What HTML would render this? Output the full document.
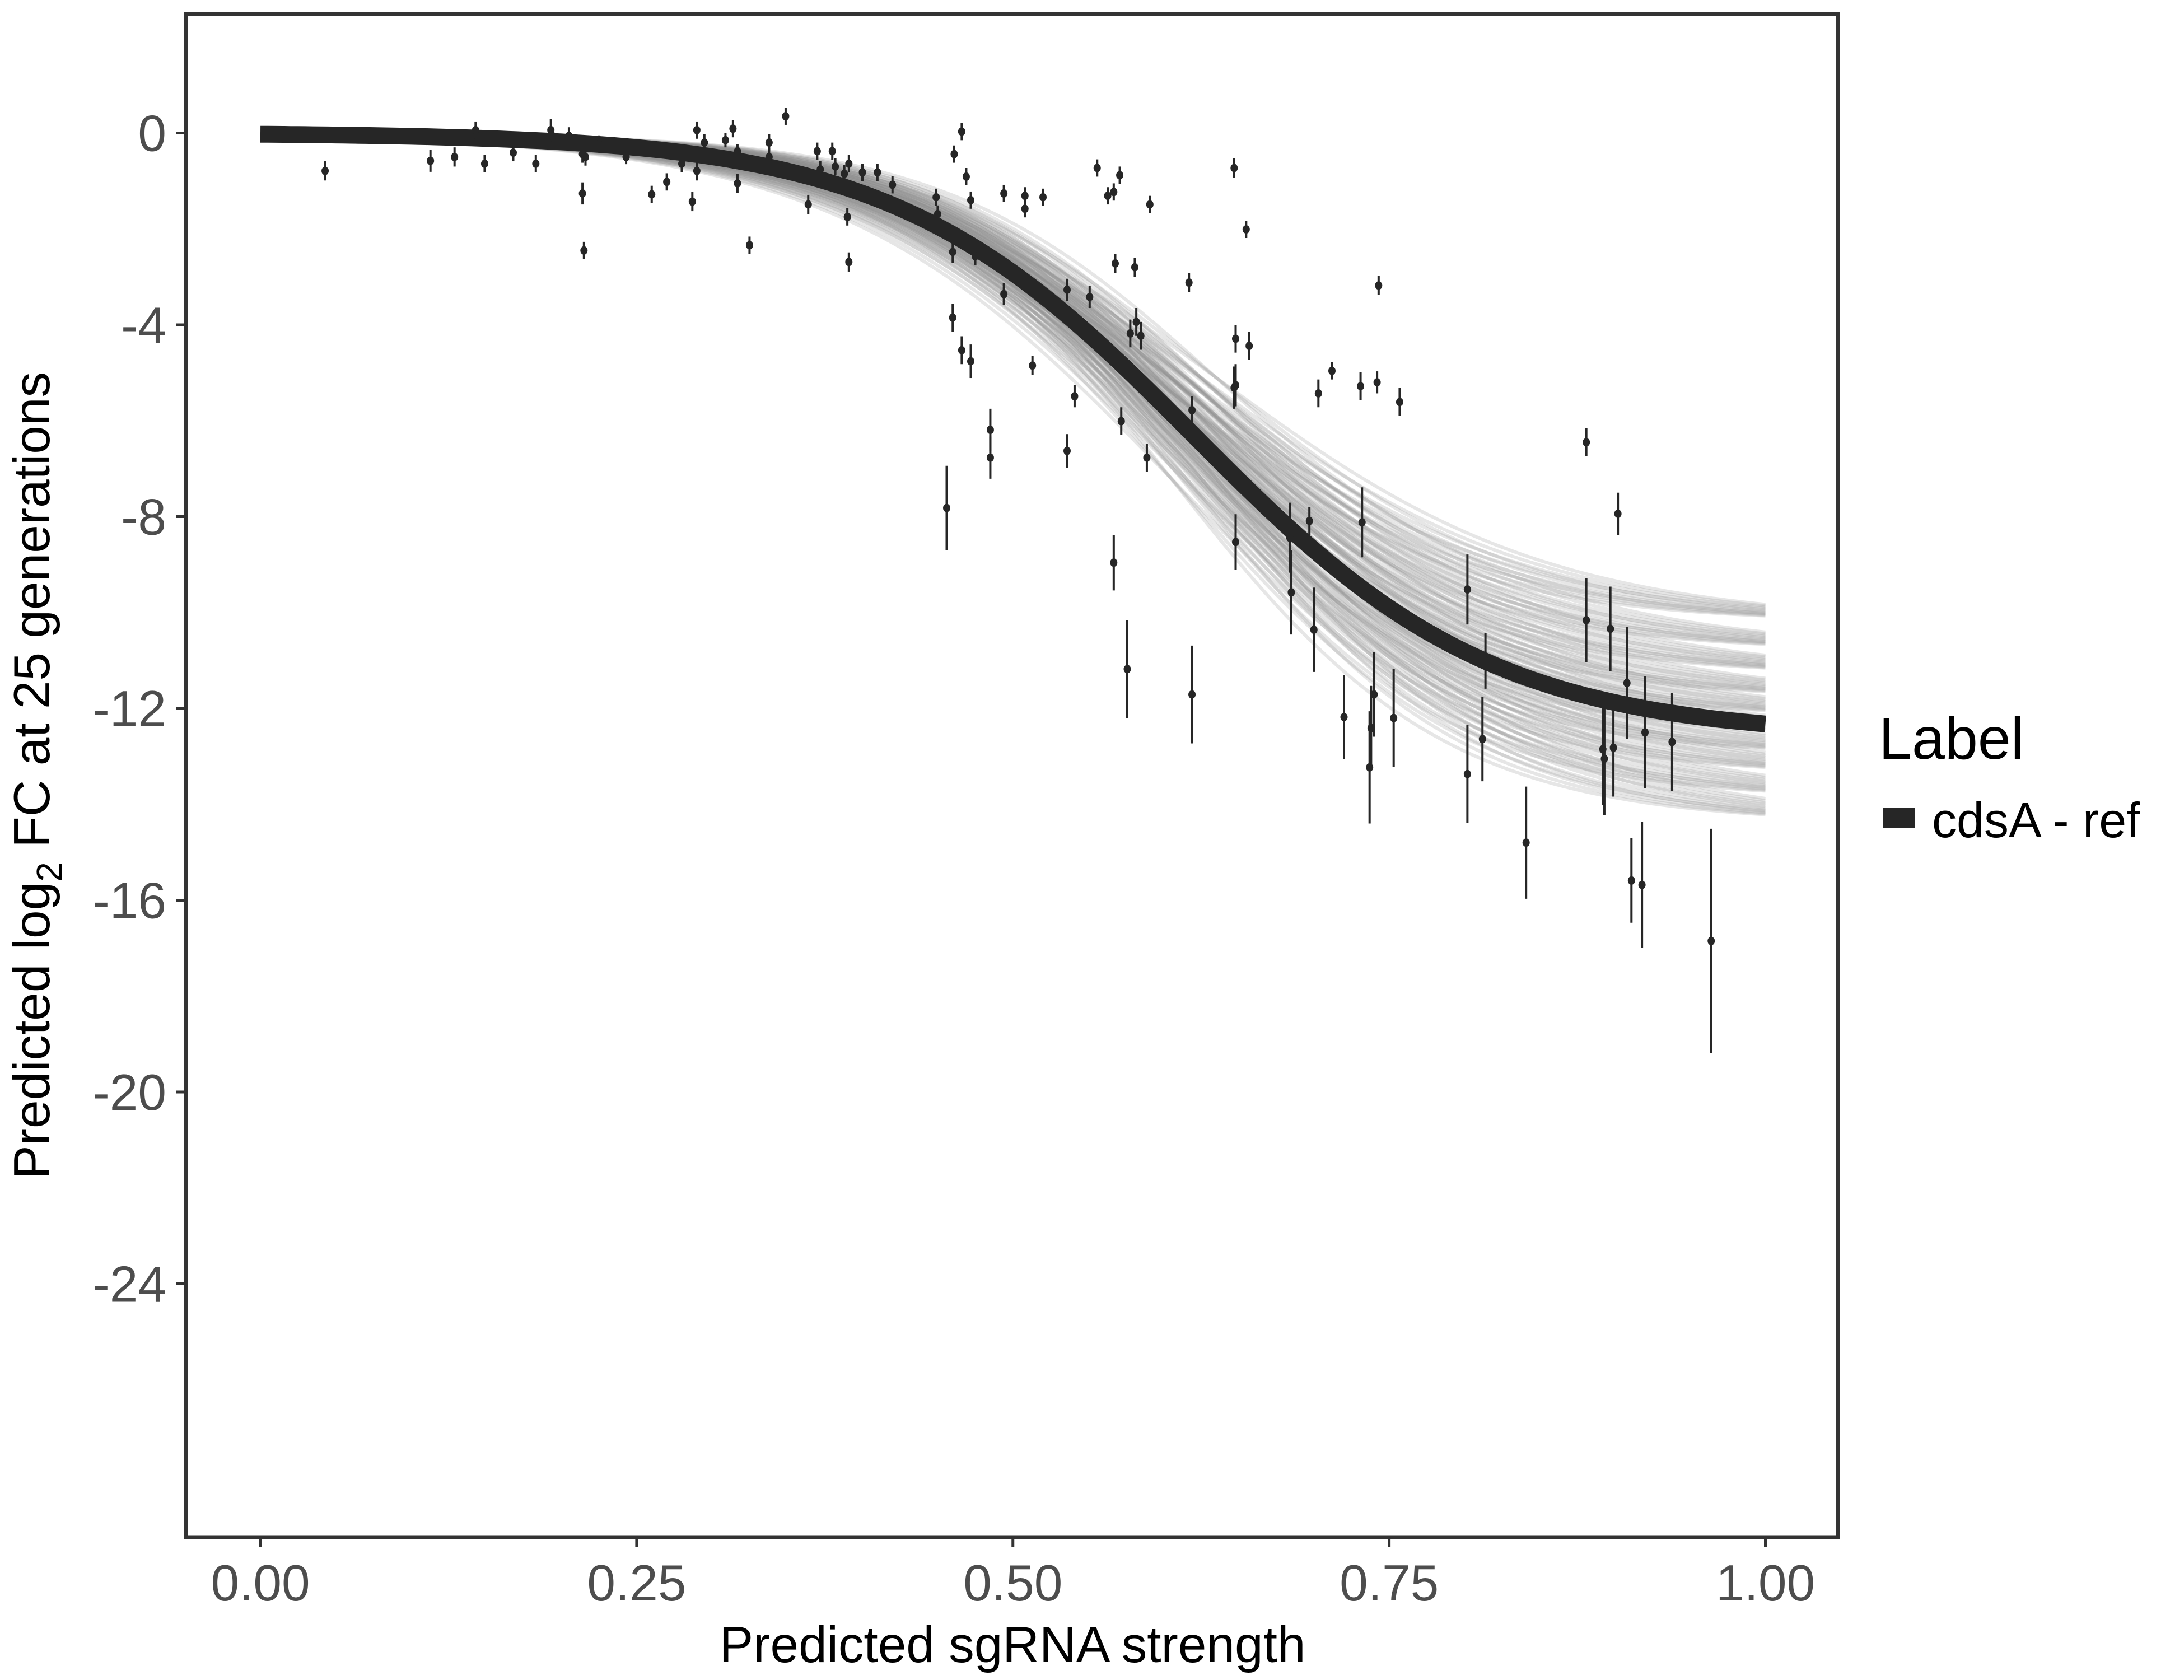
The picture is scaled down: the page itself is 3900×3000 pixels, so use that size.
<!DOCTYPE html>
<html><head><meta charset="utf-8"><style>
html,body{margin:0;padding:0;background:#fff;}
svg{display:block;font-family:"Liberation Sans",sans-serif;}
</style></head><body>
<svg id="chart" width="3900" height="3000" viewBox="0 0 3900 3000" xmlns="http://www.w3.org/2000/svg">
<rect x="0" y="0" width="3900" height="3000" fill="#fff"/>
<g id="band"></g>
<g id="fit"></g>
<g id="pts"></g>
<rect x="332.5" y="25" width="2950" height="2720" fill="none" stroke="#333" stroke-width="7"/>
<g id="xaxis"></g>
<g id="yaxis"></g>
<text x="1808" y="2968" font-size="91" text-anchor="middle" fill="#000">Predicted sgRNA strength</text>
<text transform="translate(88,1385) rotate(-90)" font-size="91" text-anchor="middle" fill="#000">Predicted  log<tspan font-size="64" dy="22">2</tspan><tspan dy="-22"> FC at 25 generations</tspan></text>
<text x="3355" y="1355" font-size="106" fill="#000">Label</text>
<rect x="3362" y="1443" width="58" height="36" fill="#262626"/>
<text x="3450" y="1495" font-size="88" fill="#000">cdsA - ref</text>
</svg>
<script>
const xTicks=[0,0.25,0.5,0.75,1];
const xTickLabels=["0.00","0.25","0.50","0.75","1.00"];
const yTicks=[0,-4,-8,-12,-16,-20,-24];
const yTickLabels=["0","-4","-8","-12","-16","-20","-24"];
const fitA=-12.6, fitM=0.62, fitK=10;
const bandA=[-10.2,-10.8,-11.3,-11.8,-12.2,-12.6,-13.0,-13.4,-13.9,-14.4];
const bandM=[0.605,0.615,0.625,0.635];
const bandK=[9.0,10.0,11.0];
const pointX=[.043,.113,.129,.143,.149,.168,.183,.193,.194,.205,.214,.214,.215,.216,.225,.243,.260,.270,.280,.287,.290,.290,.295,.309,.314,.317,.317,.325,.338,.338,.349,.364,.370,.372,.380,.382,.388,.390,.391,.391,.400,.410,.420,.449,.450,.456,.460,.460,.461,.466,.466,.469,.472,.472,.475,.485,.485,.494,.494,.508,.508,.513,.520,.536,.536,.541,.551,.556,.563,.567,.568,.571,.567,.572,.578,.576,.581,.582,.585,.589,.591,.617,.619,.619,.647,.648,.647,.648,.648,.655,.657,.684,.685,.697,.700,.703,.712,.720,.731,.732,.737,.738,.740,.742,.743,.753,.757,.802,.802,.812,.814,.841,.881,.881,.892,.893,.897,.899,.902,.908,.911,.918,.920,.938,.964];
const pointY=[-.79,-.58,-.5,.06,-.64,-.41,-.64,.06,-.06,-.06,-.44,-1.26,-2.45,-.5,-.23,-.5,-1.28,-1.02,-.64,-1.43,.06,-.79,-.2,-.15,.09,-.38,-1.05,-2.34,-.2,-.5,.35,-1.49,-.38,-.76,-.38,-.7,-.85,-1.75,-.64,-2.69,-.82,-.82,-1.08,-1.34,-1.69,-7.82,-3.85,-2.48,-.44,.03,-4.53,-.91,-4.76,-1.4,-2.57,-6.19,-6.77,-1.26,-3.36,-1.31,-1.58,-4.85,-1.34,-3.27,-6.63,-5.49,-3.42,-.73,-1.31,-1.23,-2.72,-.88,-8.96,-6.01,-4.18,-11.18,-2.8,-3.94,-4.23,-6.77,-1.49,-3.12,-11.71,-5.78,-.73,-4.29,-5.31,-5.26,-8.53,-2.01,-4.44,-8.44,-9.58,-8.09,-10.36,-5.43,-4.96,-12.18,-5.28,-8.12,-13.23,-12.41,-11.71,-5.2,-3.18,-12.2,-5.61,-9.52,-13.37,-12.64,-11.01,-14.8,-6.45,-10.16,-12.85,-13.05,-10.34,-12.82,-7.94,-11.47,-15.59,-15.68,-12.5,-12.7,-16.85];
const pointErr=[.2,.23,.2,.18,.18,.18,.18,.23,.15,.18,.18,.23,.18,.18,.18,.15,.18,.18,.18,.2,.18,.2,.18,.15,.18,.15,.2,.18,.18,.18,.18,.2,.18,.18,.18,.18,.18,.18,.18,.2,.18,.18,.18,.18,.18,.88,.29,.23,.18,.18,.29,.18,.35,.18,.18,.44,.44,.18,.23,.18,.18,.2,.18,.23,.35,.23,.23,.18,.18,.18,.2,.18,.58,.29,.29,1.02,.2,.29,.29,.29,.18,.2,1.02,.29,.2,.29,.44,.44,.58,.18,.29,.73,.88,.29,.88,.29,.18,.88,.29,.73,1.17,.88,.88,.23,.2,1.02,.29,.73,1.02,.88,.58,1.17,.29,.88,1.17,1.17,.88,1.02,.44,1.17,.88,1.31,1.17,1.02,2.34];

const NS="http://www.w3.org/2000/svg";
function sx(v){return 465+v*2687.5;}
function sy(v){return 237.5-v*85.625;}
function mk(t,a,p){const e=document.createElementNS(NS,t);for(const k in a)e.setAttribute(k,a[k]);p.appendChild(e);return e;}
function sig(x,A,m,k){return A/(1+Math.exp(-k*(x-m)));}
function curvePath(A,m,k){let d="";for(let i=0;i<=200;i++){const x=i/200;d+=(i?"L":"M")+sx(x).toFixed(1)+","+sy(sig(x,A,m,k)).toFixed(1);}return d;}

const band=document.getElementById('band');
for(const A of bandA)for(const m of bandM)for(const k of bandK){
  const p=mk('path',{d:curvePath(A,m,k),fill:'none',stroke:'#8c8c8c','stroke-opacity':'0.22','stroke-width':'6'},band);
  
  
}
const fit=document.getElementById('fit');
const fl=mk('path',{d:curvePath(fitA,fitM,fitK),fill:'none',stroke:'#262626','stroke-width':'30'},fit);



const pts=document.getElementById('pts');
for(let i=0;i<pointX.length;i++){
  const x=sx(pointX[i]);
  const l=mk('line',{x1:x,x2:x,y1:sy(pointY[i]+pointErr[i]),y2:sy(pointY[i]-pointErr[i]),stroke:'#262626','stroke-width':'4'},pts);
  
  
  const c=mk('ellipse',{cx:x,cy:sy(pointY[i]),rx:'6.5',ry:'7.5',fill:'#262626'},pts);
  
  
}
const xa=document.getElementById('xaxis');
xTicks.forEach((v,i)=>{
  const t=mk('line',{x1:sx(v),x2:sx(v),y1:2745,y2:2762,stroke:'#333','stroke-width':'5'},xa);
  
  
  const l=mk('text',{x:sx(v),y:2858,'font-size':'91','text-anchor':'middle',fill:'#4d4d4d'},xa);
  l.textContent=xTickLabels[i];
  
  
});
const ya=document.getElementById('yaxis');
yTicks.forEach((v,i)=>{
  const t=mk('line',{x1:315,x2:332,y1:sy(v),y2:sy(v),stroke:'#333','stroke-width':'5'},ya);
  
  
  const l=mk('text',{x:297,y:sy(v)+32,'font-size':'91','text-anchor':'end',fill:'#4d4d4d'},ya);
  l.textContent=yTickLabels[i];
  
  
});
</script>
</body></html>
